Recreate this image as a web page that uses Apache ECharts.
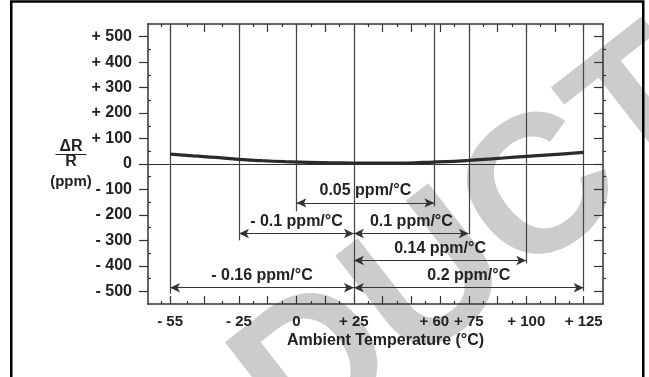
<!DOCTYPE html>
<html><head><meta charset="utf-8">
<script src="https://cdn.jsdelivr.net/npm/echarts@6/dist/echarts.min.js"></script>
<style>html,body{margin:0;padding:0;background:#fff}#c{width:649px;height:377px}</style>
</head><body><div id="c"></div>
<script>
// ---- data ----
const curveTemps = [-55, -45, -35, -25, -15, -5, 5, 15, 25, 35, 45, 55, 65, 75, 85, 95, 105, 115, 125];
const curvePpm   = [39, 32, 26, 18, 13, 9, 6, 5, 4, 4, 4, 6, 9, 14, 20, 27, 33, 39, 46];

const xLabelValues = [-55, -25, 0, 25, 60, 75, 100, 125];
const xLabelTexts  = ['- 55', '- 25', '0', '+ 25', '+ 60', '+ 75', '+ 100', '+ 125'];
const xMajorTicks  = [-55, -40, -25, -12.5, 0, 12.5, 25, 37.5, 50, 62.5, 75, 87.5, 100, 112.5, 125];
const xMinorTicks  = [-59, -47.5, -32.5, -18.75, -6.25, 6.25, 18.75, 31.25, 43.75, 56.25, 68.75, 81.25, 93.75, 106.25, 118.75];

const yLabelValues = [500, 400, 300, 200, 100, 0, -100, -200, -300, -400, -500];
const yLabelTexts  = ['+ 500', '+ 400', '+ 300', '+ 200', '+ 100', '0', '- 100', '- 200', '- 300', '- 400', '- 500'];
const yMinorTicks  = [450, 350, 250, 150, 50, -50, -150, -250, -350, -450];

const refLineTemps = [-55, -25, 0, 25, 60, 75, 100, 125];
const refLineEnds  = [-510, -300, -186, -550, -166, -276, -390, -500];

const spanFrom   = [0, -25, 25, 25, -55, 25];
const spanTo     = [60, 25, 75, 100, 25, 125];
const spanLevel  = [-153, -273, -273, -379, -486, -486];
const spanLabels = ['0.05 ppm/°C', '- 0.1 ppm/°C', '0.1 ppm/°C', '0.14 ppm/°C', '- 0.16 ppm/°C', '0.2 ppm/°C'];

const watermarkText = 'PRODUCT';

const X_MIN = -64.6, X_MAX = 133.4, Y_MIN = -550, Y_MAX = 550;

// ---- style ----
const FONT = "'Liberation Sans', Arial, Helvetica, sans-serif";
const INK = '#222';
const LINE = '#333';

function fmt(values, texts) {
  return v => { const i = values.findIndex(a => Math.abs(a - v) < 1e-6); return i >= 0 ? texts[i] : ''; };
}
function baseX(pos, extra) {
  return Object.assign({
    type: 'value', position: pos, min: X_MIN, max: X_MAX,
    axisLine: { show: false, onZero: false, lineStyle: { color: LINE, width: 1.5 } },
    axisLabel: { show: false },
    splitLine: { show: false }
  }, extra);
}
function baseY(pos, extra) {
  return Object.assign({
    type: 'value', position: pos, min: Y_MIN, max: Y_MAX,
    axisLine: { show: false, onZero: false, lineStyle: { color: LINE, width: 1.5 } },
    axisLabel: { show: false },
    splitLine: { show: false }
  }, extra);
}
const tickStyle = { color: LINE, width: 1.2 };

// watermark placement (decorative, rotated text)
const WM_SIZE = 196, WM_ROT = 38 * Math.PI / 180;
const wmU = [Math.cos(WM_ROT), -Math.sin(WM_ROT)];
const wmC = [543, 196];           // centre of the "C"
const wmOff = 3.972 * WM_SIZE;    // distance from word start to "C" centre
const wmPos = [wmC[0] - wmOff * wmU[0], wmC[1] - wmOff * wmU[1]];

const option = {
  animation: false,
  backgroundColor: '#fff',
  grid: { left: 148, right: 46, top: 24, bottom: 73, containLabel: false },
  xAxis: [
    baseX('bottom', {
      axisLine: { show: true, onZero: false, lineStyle: { color: LINE, width: 1.5 } },
      axisTick: { show: true, inside: true, length: 8, customValues: xMajorTicks, lineStyle: tickStyle },
      axisLabel: { show: true, customValues: xLabelValues, formatter: fmt(xLabelValues, xLabelTexts),
        margin: 10, fontSize: 15, fontWeight: 'bold', fontFamily: FONT, color: INK },
      name: 'Ambient Temperature (°C)', nameLocation: 'middle', nameGap: 29, nameMoveOverlap: false,
      nameTextStyle: { fontSize: 16, fontWeight: 'bold', fontFamily: FONT, color: INK, padding: [0, 0, 0, 20] }
    }),
    baseX('bottom', { axisTick: { show: true, inside: true, length: 3, customValues: xMinorTicks, lineStyle: tickStyle } }),
    baseX('top', {
      axisLine: { show: true, onZero: false, lineStyle: { color: LINE, width: 1.5 } },
      axisTick: { show: true, inside: true, length: 8, customValues: xMajorTicks, lineStyle: tickStyle }
    }),
    baseX('top', { axisTick: { show: true, inside: true, length: 3, customValues: xMinorTicks, lineStyle: tickStyle } })
  ],
  yAxis: [
    baseY('left', {
      axisLine: { show: true, onZero: false, lineStyle: { color: LINE, width: 1.5 } },
      axisTick: { show: true, inside: false, length: 9, customValues: yLabelValues, lineStyle: tickStyle },
      axisLabel: { show: true, customValues: yLabelValues, formatter: fmt(yLabelValues, yLabelTexts),
        margin: 16, fontSize: 16, fontWeight: 'bold', fontFamily: FONT, color: INK },
      name: '{a|ΔR}\n{hr|}\n{b|R}\n{c|(ppm)}', nameLocation: 'middle', nameRotate: 0, nameGap: 56, nameMoveOverlap: false,
      nameTextStyle: {
        padding: [6, 0, 0, 0],
        rich: {
          a: { fontSize: 16, fontWeight: 'bold', fontFamily: FONT, color: INK, lineHeight: 15, width: 42, align: 'center' },
          hr: { width: 31, height: 0, borderColor: INK, borderWidth: 1.2, align: 'center' },
          b: { fontSize: 16, fontWeight: 'bold', fontFamily: FONT, color: INK, lineHeight: 14, width: 42, align: 'center' },
          c: { fontSize: 15, fontWeight: 'bold', fontFamily: FONT, color: INK, lineHeight: 26, width: 42, align: 'center' }
        }
      }
    }),
    baseY('left', { axisTick: { show: true, inside: true, length: 3, customValues: yMinorTicks, lineStyle: tickStyle } }),
    baseY('right', {
      axisLine: { show: true, onZero: false, lineStyle: { color: LINE, width: 1.5 } },
      axisTick: { show: true, inside: true, length: 9, customValues: yLabelValues, lineStyle: tickStyle }
    }),
    baseY('right', { axisTick: { show: true, inside: false, length: 3, customValues: yMinorTicks, lineStyle: tickStyle } })
  ],
  graphic: [
    {
      type: 'text', silent: true, z: -10,
      x: wmPos[0], y: wmPos[1], rotation: WM_ROT,
      style: { text: watermarkText, fill: '#cccccc', font: 'bold ' + WM_SIZE + 'px ' + FONT,
        textAlign: 'left', textVerticalAlign: 'middle' }
    },
    {
      type: 'rect', silent: true, z: 100,
      shape: { x: 11.25, y: 1.5, width: 632, height: 420 },
      style: { fill: 'none', stroke: '#000', lineWidth: 2.5 }
    }
  ],
  series: [
    {
      type: 'line', xAxisIndex: 0, yAxisIndex: 0, smooth: true, showSymbol: false, z: 5,
      data: curveTemps.map((t, i) => [t, curvePpm[i]]),
      lineStyle: { color: '#2a2a2a', width: 3.2 },
      markLine: {
        silent: true, symbol: ['none', 'none'], label: { show: false },
        lineStyle: { color: LINE, width: 1.2, type: 'solid' },
        data: [{ yAxis: 0 }]
      }
    },
    {
      type: 'line', xAxisIndex: 0, yAxisIndex: 0, data: [], z: 3,
      markLine: {
        silent: true, symbol: ['none', 'none'], label: { show: false },
        lineStyle: { color: '#444', width: 1.2, type: 'solid' },
        data: refLineTemps.map((t, i) => [{ coord: [t, Y_MAX] }, { coord: [t, refLineEnds[i]] }])
      }
    },
    {
      type: 'line', xAxisIndex: 0, yAxisIndex: 0, data: [], z: 4,
      markLine: {
        silent: true, symbol: ['arrow', 'arrow'], symbolSize: [7, 10],
        lineStyle: { color: LINE, width: 1.2, type: 'solid' },
        label: { show: true, position: 'middle', distance: 4, formatter: p => p.name,
          fontSize: 16, fontWeight: 'bold', fontFamily: FONT, color: INK },
        data: spanFrom.map((f, i) => [
          { name: spanLabels[i], coord: [f, spanLevel[i]] },
          { coord: [spanTo[i], spanLevel[i]] }
        ])
      }
    }
  ]
};
echarts.init(document.getElementById('c'), null, { renderer: 'canvas' }).setOption(option);
</script>
</body></html>
